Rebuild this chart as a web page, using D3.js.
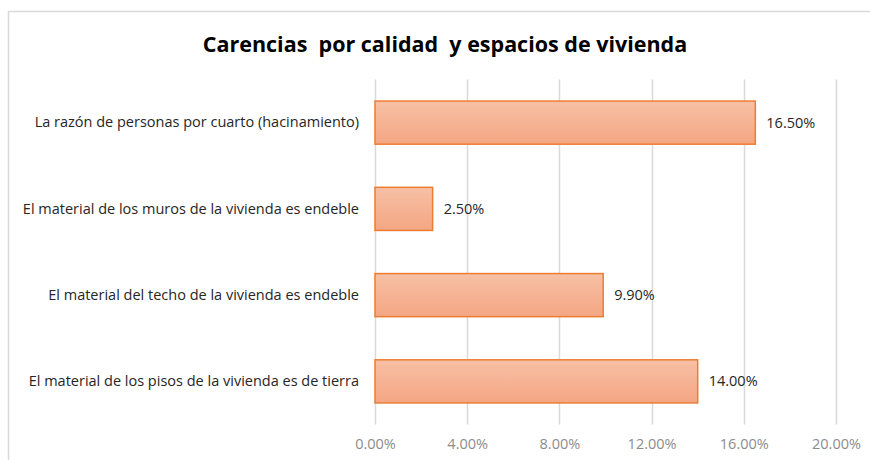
<!DOCTYPE html>
<html lang="es">
<head>
<meta charset="utf-8">
<title>Carencias</title>
<script src="https://d3js.org/d3.v7.min.js"></script>
<style>
  body { margin: 0; background: #fff; }
  svg { display: block; font-family: "Open Sans", Lato, sans-serif; }
</style>
</head>
<body>
<svg id="chart" width="870" height="460"></svg>
<script>
// data
var categories = [
  "La razón de personas por cuarto (hacinamiento)",
  "El material de los muros de la vivienda es endeble",
  "El material del techo de la vivienda es endeble",
  "El material de los pisos de la vivienda es de tierra"
];
var values = [16.5, 2.5, 9.9, 14.0];
var ticks = [0, 4, 8, 12, 16, 20];

var svg = d3.select("#chart");
var margin = {top: 80, left: 375, right: 34, bottom: 35};
var fontFam = "'Open Sans', Lato, sans-serif";

// chart frame (only top/left visible, rest runs off)
svg.append("rect")
  .attr("x", 8.5).attr("y", 11.5)
  .attr("width", 900).attr("height", 500)
  .attr("fill", "none").attr("stroke", "#d9d9d9").attr("stroke-width", 1.5);

svg.append("text")
  .attr("x", 445).attr("y", 52)
  .attr("text-anchor", "middle")
  .attr("font-size", 21.5).attr("font-weight", "bold")
  .attr("fill", "#000")
  .style("white-space", "pre")
  .text("Carencias  por calidad  y espacios de vivienda");

var x = d3.scaleLinear().domain([0, 20]).range([margin.left, 836]);
var y = d3.scaleBand().domain(categories).range([79.5, 424.5]).paddingInner(0.5).paddingOuter(0.25);

// gradient
var defs = svg.append("defs");
var grad = defs.append("linearGradient").attr("id", "barGrad")
  .attr("x1", 0).attr("y1", 0).attr("x2", 0).attr("y2", 1);
grad.append("stop").attr("offset", "0%").attr("stop-color", "#f7c0a5");
grad.append("stop").attr("offset", "100%").attr("stop-color", "#f4a683");

// grid lines
svg.append("g").selectAll("line")
  .data(ticks)
  .join("line")
  .attr("x1", d => Math.round(x(d)) + 0.5).attr("x2", d => Math.round(x(d)) + 0.5)
  .attr("y1", 79.5).attr("y2", 424.5)
  .attr("stroke", "#d9d9d9").attr("stroke-width", 1.5);

// x axis labels
var xAxis = d3.axisBottom(x).tickValues(ticks).tickSize(0)
  .tickFormat(d => d.toFixed(2) + "%");
var gx = svg.append("g").attr("transform", "translate(0,436)").call(xAxis);
gx.select(".domain").remove();
gx.selectAll("text").attr("font-size", 14.5).attr("fill", "#8c8c8c")
  .attr("font-family", fontFam);

// category labels
var yAxis = d3.axisLeft(y).tickSize(0).tickPadding(16);
var gy = svg.append("g").attr("transform", "translate(" + margin.left + ",0)").call(yAxis);
gy.select(".domain").remove();
gy.selectAll("text").attr("font-size", 14.5).attr("fill", "#262626")
  .attr("font-family", fontFam);

// bars
svg.append("g").selectAll("rect")
  .data(values)
  .join("rect")
  .attr("x", x(0))
  .attr("y", (d, i) => y(categories[i]))
  .attr("width", d => x(d) - x(0))
  .attr("height", y.bandwidth())
  .attr("fill", "url(#barGrad)")
  .attr("stroke", "#ed7d31").attr("stroke-width", 1.5);

// value labels
svg.append("g").selectAll("text")
  .data(values)
  .join("text")
  .attr("x", d => x(d) + 11)
  .attr("y", (d, i) => y(categories[i]) + y.bandwidth() / 2)
  .attr("dy", "0.35em")
  .attr("font-size", 14.5).attr("fill", "#262626")
  .text(d => d.toFixed(2) + "%");
</script>
</body>
</html>
